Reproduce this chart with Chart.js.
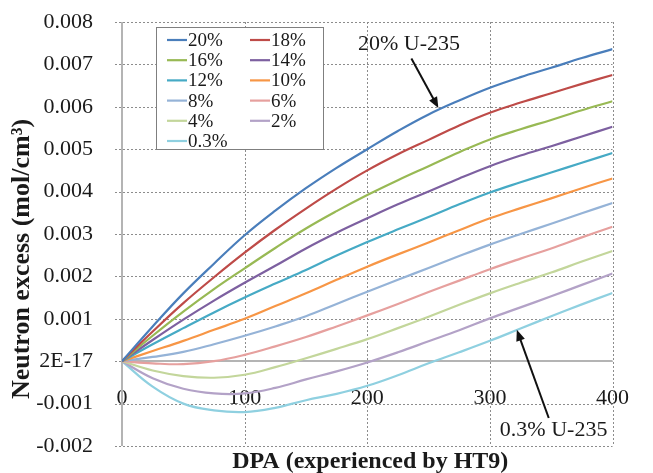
<!DOCTYPE html>
<html>
<head>
<meta charset="utf-8">
<script src="https://cdn.jsdelivr.net/npm/chart.js@4/dist/chart.umd.min.js"></script>
<style>
  html, body { margin: 0; padding: 0; background: #fff; }
  #wrap { width: 653px; height: 473px; position: relative; }
</style>
</head>
<body>
<div id="wrap"><canvas id="grafico"></canvas></div>
<script>
// ── datos (neutron excess en unidades de 1e-3 mol/cm3) ──
const DPA = [0, 25, 50, 75, 100, 125, 150, 175, 200, 225, 250, 275, 300, 325, 350, 375, 400];

const ENR_LABELS = ['20%', '18%', '16%', '14%', '12%', '10%', '8%', '6%', '4%', '2%', '0.3%'];

const E20 = [0, 0.82, 1.60, 2.30, 2.97, 3.55, 4.08, 4.56, 5.00, 5.43, 5.82, 6.15, 6.45, 6.70, 6.92, 7.15, 7.36];
const E18 = [0, 0.70, 1.37, 1.98, 2.56, 3.10, 3.60, 4.07, 4.50, 4.88, 5.22, 5.56, 5.86, 6.10, 6.32, 6.54, 6.75];
const E16 = [0, 0.60, 1.17, 1.70, 2.19, 2.67, 3.13, 3.54, 3.92, 4.27, 4.60, 4.93, 5.23, 5.47, 5.69, 5.92, 6.13];
const E14 = [0, 0.50, 0.98, 1.43, 1.85, 2.25, 2.66, 3.03, 3.37, 3.70, 4.00, 4.31, 4.60, 4.85, 5.07, 5.30, 5.53];
const E12 = [0, 0.40, 0.78, 1.15, 1.50, 1.83, 2.15, 2.49, 2.81, 3.11, 3.40, 3.70, 3.98, 4.22, 4.45, 4.68, 4.91];
const E10 = [0, 0.24, 0.48, 0.74, 1.00, 1.30, 1.60, 1.92, 2.23, 2.52, 2.80, 3.09, 3.37, 3.61, 3.84, 4.08, 4.31];
const E8  = [0, 0.10, 0.22, 0.40, 0.60, 0.82, 1.06, 1.35, 1.64, 1.92, 2.20, 2.48, 2.75, 3.00, 3.24, 3.49, 3.73];
const E6  = [0, -0.05, -0.07, 0.00, 0.15, 0.35, 0.57, 0.82, 1.08, 1.35, 1.63, 1.90, 2.17, 2.42, 2.66, 2.92, 3.17];
const E4  = [0, -0.22, -0.35, -0.39, -0.32, -0.14, 0.07, 0.29, 0.52, 0.78, 1.05, 1.33, 1.60, 1.85, 2.09, 2.35, 2.60];
const E2  = [0, -0.40, -0.65, -0.76, -0.76, -0.63, -0.43, -0.24, -0.03, 0.21, 0.47, 0.73, 1.01, 1.27, 1.53, 1.80, 2.07];
const E03 = [0, -0.60, -1.00, -1.16, -1.20, -1.10, -0.92, -0.77, -0.58, -0.33, -0.05, 0.21, 0.48, 0.77, 1.06, 1.34, 1.61];

const SERIES = [E20, E18, E16, E14, E12, E10, E8, E6, E4, E2, E03];

const Y_TICKS = [-0.002, -0.001, 0, 0.001, 0.002, 0.003, 0.004, 0.005, 0.006, 0.007, 0.008];
const Y_TICK_LABELS = ['-0.002', '-0.001', '2E-17', '0.001', '0.002', '0.003', '0.004', '0.005', '0.006', '0.007', '0.008'];
const X_TICK_LABELS = ['0', '100', '200', '300', '400'];

// anotaciones en coordenadas de datos (x = DPA, y = 1e-3 mol/cm3)
const NOTAS = [
  { texto: '20% U-235',  tx: 234, ty: 7.48,  ax1: 236, ay1: 7.14, ax2: 258, ay2: 5.97 },
  { texto: '0.3% U-235', tx: 352, ty: -1.63, ax1: 348, ay1: -1.34, ax2: 322, ay2: 0.74 },
];

const COLORES = ['#4a7ebb', '#be4b48', '#98b954', '#7d60a0', '#46aac5', '#f79646',
                 '#95b3d7', '#e6a09e', '#c3d69b', '#b3a2c7', '#8fd0e0'];

const SERIF = '"Liberation Serif", "Times New Roman", serif';

// ═══ plugin: rejilla punteada, leyenda en caja, flechas, títulos ═══
const overlay = {
  id: 'overlay',
  beforeDatasetsDraw(chart) {
    const { ctx, chartArea: a, scales: { x, y } } = chart;
    ctx.save();
    ctx.strokeStyle = '#8c8c8c';
    ctx.lineWidth = 1;
    ctx.setLineDash([2, 2]);
    x.ticks.forEach(t => {
      const px = Math.round(x.getPixelForValue(t.value)) + 0.5;
      ctx.beginPath(); ctx.moveTo(px, a.top); ctx.lineTo(px, a.bottom); ctx.stroke();
    });
    y.ticks.forEach(t => {
      const py = Math.round(y.getPixelForValue(t.value)) + 0.5;
      ctx.beginPath(); ctx.moveTo(a.left - 7, py); ctx.lineTo(a.right, py); ctx.stroke();
    });
    ctx.setLineDash([]);
    // ejes sólidos
    ctx.strokeStyle = '#b4b4b4';
    ctx.lineWidth = 2;
    const y0 = Math.round(y.getPixelForValue(0));
    ctx.beginPath(); ctx.moveTo(a.left, y0); ctx.lineTo(a.right, y0); ctx.stroke();
    const x0 = Math.round(x.getPixelForValue(0));
    ctx.beginPath(); ctx.moveTo(x0, a.top); ctx.lineTo(x0, a.bottom); ctx.stroke();
    ctx.restore();
  },
  afterDatasetsDraw(chart) {
    const { ctx, chartArea: a, scales: { x, y } } = chart;
    ctx.save();

    // caja de leyenda
    const bx = 156, by = 27, bw = 167, bh = 122;
    ctx.fillStyle = '#fff';
    ctx.fillRect(bx, by, bw, bh);
    ctx.strokeStyle = '#7f7f7f';
    ctx.lineWidth = 1;
    ctx.strokeRect(bx + 0.5, by + 0.5, bw, bh);

    ctx.font = '19px ' + SERIF;
    ctx.textBaseline = 'middle';
    ctx.textAlign = 'left';
    chart.data.datasets.forEach((ds, i) => {
      const col = i % 2, row = Math.floor(i / 2);
      const lx = col === 0 ? 167 : 250;
      const ly = 40 + row * 20.2;
      ctx.strokeStyle = ds.borderColor;
      ctx.lineWidth = 2.2;
      ctx.beginPath();
      ctx.moveTo(lx, ly);
      ctx.lineTo(lx + 20, ly);
      ctx.stroke();
      ctx.fillStyle = '#1a1a1a';
      ctx.fillText(ds.label, lx + 21, ly + 1);
    });

    // anotaciones con flecha
    ctx.font = '22px ' + SERIF;
    ctx.textAlign = 'center';
    NOTAS.forEach(n => {
      ctx.fillStyle = '#1a1a1a';
      ctx.fillText(n.texto, x.getPixelForValue(n.tx), y.getPixelForValue(n.ty / 1000));
      const x1 = x.getPixelForValue(n.ax1), y1 = y.getPixelForValue(n.ay1 / 1000);
      const x2 = x.getPixelForValue(n.ax2), y2 = y.getPixelForValue(n.ay2 / 1000);
      const ang = Math.atan2(y2 - y1, x2 - x1);
      const hl = 11, hw = 4.5;
      ctx.strokeStyle = '#111';
      ctx.lineWidth = 2;
      ctx.beginPath();
      ctx.moveTo(x1, y1);
      ctx.lineTo(x2 - Math.cos(ang) * hl * 0.8, y2 - Math.sin(ang) * hl * 0.8);
      ctx.stroke();
      ctx.fillStyle = '#111';
      ctx.beginPath();
      ctx.moveTo(x2, y2);
      ctx.lineTo(x2 - Math.cos(ang) * hl - Math.sin(ang) * hw, y2 - Math.sin(ang) * hl + Math.cos(ang) * hw);
      ctx.lineTo(x2 - Math.cos(ang) * hl + Math.sin(ang) * hw, y2 - Math.sin(ang) * hl - Math.cos(ang) * hw);
      ctx.closePath();
      ctx.fill();
    });

    // títulos de ejes
    ctx.fillStyle = '#1a1a1a';
    ctx.textAlign = 'center';
    ctx.font = 'bold 24px ' + SERIF;
    ctx.fillText('DPA (experienced by HT9)', (a.left + a.right) / 2 + 3, 462);

    ctx.translate(22, 259);
    ctx.rotate(-Math.PI / 2);
    ctx.font = 'bold 26px ' + SERIF;
    ctx.fillText('Neutron excess (mol/cm³)', 0, 0);

    ctx.restore();
  }
};

const datasets = SERIES.map((serie, i) => ({
  label: ENR_LABELS[i],
  data: serie.map((v, j) => ({ x: DPA[j], y: v / 1000 })),
  borderColor: COLORES[i],
  borderWidth: 2.2,
  pointRadius: 0,
  tension: 0.4,
  fill: false,
}));

new Chart(document.getElementById('grafico'), {
  type: 'line',
  data: { datasets },
  plugins: [overlay],
  options: {
    responsive: true,
    maintainAspectRatio: false,
    animation: false,
    layout: { padding: { left: 8, right: 20, top: 22, bottom: 27 } },
    plugins: { legend: { display: false }, tooltip: { enabled: false } },
    scales: {
      x: {
        type: 'linear',
        position: { y: 0 },
        min: 0, max: 400,
        ticks: {
          stepSize: 100,
          padding: 24,
          color: '#1a1a1a',
          font: { family: SERIF, size: 22 },
          callback: (v) => X_TICK_LABELS[Math.round(v / 100)],
        },
        grid: { display: false, drawTicks: false },
        border: { display: false },
      },
      y: {
        type: 'linear',
        min: -0.002, max: 0.008,
        afterFit: (s) => { s.width = 114; s.paddingTop = 0; s.paddingBottom = 0; },
        afterBuildTicks: (s) => { s.ticks = Y_TICKS.map(v => ({ value: v })); },
        ticks: {
          padding: 21,
          color: '#1a1a1a',
          font: { family: SERIF, size: 22 },
          callback: (v, i) => Y_TICK_LABELS[i],
        },
        grid: { display: false },
        border: { display: false },
      },
    },
  },
});
</script>
</body>
</html>
